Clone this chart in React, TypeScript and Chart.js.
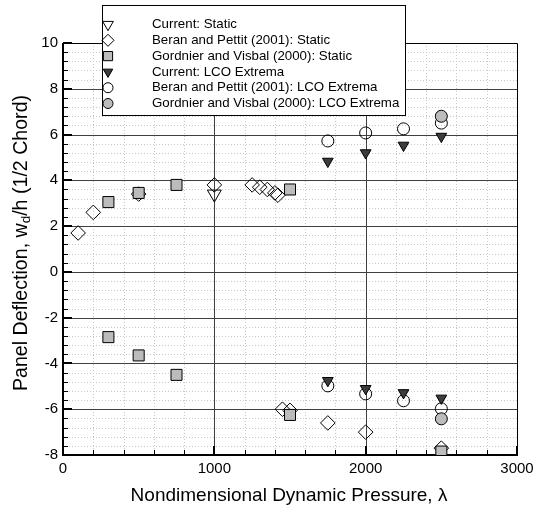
import React, { useEffect, useRef } from "react";
import { Chart, registerables } from "chart.js";
import { drawPoint } from "chart.js/helpers";

Chart.register(...registerables);

// ---- data ----
const currentStaticX = [1000];
const currentStaticY = [3.4];

const beranStaticX = [100, 200, 500, 1000, 1250, 1300, 1350, 1400, 1420, 1450, 1500, 1750, 2000, 2500];
const beranStaticY = [1.7, 2.6, 3.4, 3.8, 3.8, 3.7, 3.6, 3.45, 3.35, -6.0, -6.05, -6.6, -7.0, -7.7];

const gordStaticX = [300, 500, 750, 1500, 300, 500, 750, 1500, 2500];
const gordStaticY = [3.05, 3.45, 3.8, 3.6, -2.85, -3.65, -4.5, -6.25, -7.85];

const currentLcoX = [1750, 2000, 2250, 2500, 1750, 2000, 2250, 2500];
const currentLcoY = [4.83, 5.2, 5.53, 5.92, -4.75, -5.1, -5.28, -5.52];

const beranLcoX = [1750, 2000, 2250, 2500, 1750, 2000, 2250, 2500];
const beranLcoY = [5.72, 6.07, 6.25, 6.5, -4.98, -5.33, -5.63, -5.98];

const gordLcoX = [2500, 2500];
const gordLcoY = [6.8, -6.42];

const xTicks = [0, 1000, 2000, 3000];
const yTicks = [-8, -6, -4, -2, 0, 2, 4, 6, 8, 10];

const legendLabels = [
  "Current: Static",
  "Beran and Pettit (2001): Static",
  "Gordnier and Visbal (2000): Static",
  "Current: LCO Extrema",
  "Beran and Pettit (2001): LCO Extrema",
  "Gordnier and Visbal (2000): LCO Extrema",
];

const FONT = "'Liberation Sans', Arial, sans-serif";
const GREY = "#bcbcbc";
const DARK = "#3c3c3c";
const NONE = "rgba(0,0,0,0)";

const pts = (xs: number[], ys: number[]) => xs.map((x, i) => ({ x, y: ys[i] }));

const styles = [
  { pointStyle: "triangle", rotation: 180, radius: 8, fill: NONE, order: 4, lr: 6.2 },
  { pointStyle: "rectRot", rotation: 0, radius: 7.3, fill: NONE, order: 5, lr: 6 },
  { pointStyle: "rect", rotation: 0, radius: 7.8, fill: GREY, order: 2, lr: 6.5 },
  { pointStyle: "triangle", rotation: 180, radius: 6.2, fill: DARK, order: 1, lr: 5.5 },
  { pointStyle: "circle", rotation: 0, radius: 6, fill: NONE, order: 3, lr: 5 },
  { pointStyle: "circle", rotation: 0, radius: 6, fill: GREY, order: 0, lr: 5 },
];

const seriesData = [
  pts(currentStaticX, currentStaticY),
  pts(beranStaticX, beranStaticY),
  pts(gordStaticX, gordStaticY),
  pts(currentLcoX, currentLcoY),
  pts(beranLcoX, beranLcoY),
  pts(gordLcoX, gordLcoY),
];

const gridPlugin = {
  id: "customGrid",
  beforeDatasetsDraw(chart: any) {
    const { ctx, chartArea: a, scales } = chart;
    const xs = scales.x;
    const ys = scales.y;
    ctx.save();
    // minor dotted grid
    ctx.strokeStyle = "#c8c8c8";
    ctx.lineWidth = 1;
    ctx.setLineDash([1, 2]);
    for (let v = 200; v < 3000; v += 200) {
      if (v % 1000 === 0) continue;
      const px = Math.round(xs.getPixelForValue(v)) + 0.5;
      ctx.beginPath();
      ctx.moveTo(px, a.top);
      ctx.lineTo(px, a.bottom);
      ctx.stroke();
    }
    for (let k = 1; k < 45; k++) {
      const v = -8 + k * 0.4;
      if (k % 5 === 0) continue;
      const py = Math.round(ys.getPixelForValue(v)) + 0.5;
      ctx.beginPath();
      ctx.moveTo(a.left, py);
      ctx.lineTo(a.right, py);
      ctx.stroke();
    }
    ctx.setLineDash([]);
    // major solid grid
    ctx.strokeStyle = "#404040";
    for (const v of xTicks) {
      if (v === 0 || v === 3000) continue;
      const px = Math.round(xs.getPixelForValue(v)) + 0.5;
      ctx.beginPath();
      ctx.moveTo(px, a.top);
      ctx.lineTo(px, a.bottom);
      ctx.stroke();
    }
    for (const v of yTicks) {
      if (v === -8 || v === 10) continue;
      const py = Math.round(ys.getPixelForValue(v)) + 0.5;
      ctx.beginPath();
      ctx.moveTo(a.left, py);
      ctx.lineTo(a.right, py);
      ctx.stroke();
    }
    // border
    ctx.strokeStyle = "#000";
    ctx.lineWidth = 1;
    ctx.beginPath();
    ctx.moveTo(a.left, Math.round(a.top) + 0.5);
    ctx.lineTo(Math.round(a.right) + 0.5, Math.round(a.top) + 0.5);
    ctx.lineTo(Math.round(a.right) + 0.5, a.bottom);
    ctx.stroke();
    ctx.lineWidth = 2;
    ctx.beginPath();
    ctx.moveTo(Math.round(a.left), a.top);
    ctx.lineTo(Math.round(a.left), Math.round(a.bottom));
    ctx.lineTo(a.right + 1, Math.round(a.bottom));
    ctx.stroke();
    // inward ticks
    for (let v = 0; v <= 3000; v += 200) {
      const px = Math.round(xs.getPixelForValue(v));
      const major = v % 1000 === 0;
      ctx.lineWidth = major ? 2 : 1;
      const off = major ? 0 : 0.5;
      ctx.beginPath();
      ctx.moveTo(px + off, a.bottom);
      ctx.lineTo(px + off, a.bottom - (major ? 9 : 5));
      ctx.stroke();
    }
    for (let k = 0; k <= 45; k++) {
      const v = -8 + k * 0.4;
      const py = Math.round(ys.getPixelForValue(v));
      const major = k % 5 === 0;
      ctx.lineWidth = major ? 2 : 1;
      const off = major ? 0 : 0.5;
      ctx.beginPath();
      ctx.moveTo(a.left, py + off);
      ctx.lineTo(a.left + (major ? 9 : 5), py + off);
      ctx.stroke();
    }
    ctx.restore();
  },
};

const overlayPlugin = {
  id: "overlay",
  afterDraw(chart: any) {
    const { ctx } = chart;
    ctx.save();
    // legend
    ctx.fillStyle = "#fff";
    ctx.fillRect(102, 5, 304, 111);
    ctx.strokeStyle = "#000";
    ctx.lineWidth = 1;
    ctx.strokeRect(102.5, 5.5, 303, 110);
    ctx.font = `13.3px ${FONT}`;
    ctx.textBaseline = "middle";
    ctx.textAlign = "left";
    legendLabels.forEach((label, i) => {
      const y = 24.5 + i * 15.8;
      const s = styles[i];
      ctx.fillStyle = s.fill;
      ctx.strokeStyle = "#000";
      ctx.lineWidth = 1;
      drawPoint(ctx, { pointStyle: s.pointStyle, rotation: s.rotation, radius: s.lr, borderWidth: 1 } as any, 108, y);
      ctx.fillStyle = "#000";
      ctx.fillText(label, 152, y);
    });
    // x title
    ctx.fillStyle = "#000";
    ctx.font = `19px ${FONT}`;
    ctx.textAlign = "center";
    ctx.textBaseline = "middle";
    ctx.fillText("Nondimensional Dynamic Pressure, \u03bb", 289, 496);
    // y title with subscript
    const parts = [
      { t: "Panel Deflection, w", f: `19.6px ${FONT}`, dy: 0 },
      { t: "d", f: `13.5px ${FONT}`, dy: 4 },
      { t: "/h (1/2 Chord)", f: `19.6px ${FONT}`, dy: 0 },
    ];
    let total = 0;
    const widths = parts.map((p) => {
      ctx.font = p.f;
      const w = ctx.measureText(p.t).width;
      total += w;
      return w;
    });
    ctx.translate(22, 243);
    ctx.rotate(-Math.PI / 2);
    ctx.textAlign = "left";
    let x = -total / 2;
    parts.forEach((p, i) => {
      ctx.font = p.f;
      ctx.fillText(p.t, x, p.dy);
      x += widths[i];
    });
    ctx.restore();
  },
};

export default function App() {
  const ref = useRef<HTMLCanvasElement | null>(null);
  useEffect(() => {
    if (!ref.current) return;
    const chart = new Chart(ref.current, {
      type: "scatter",
      data: {
        datasets: seriesData.map((d, i) => ({
          label: legendLabels[i],
          data: d,
          pointStyle: styles[i].pointStyle as any,
          rotation: styles[i].rotation,
          pointRadius: styles[i].radius,
          pointHoverRadius: styles[i].radius,
          backgroundColor: styles[i].fill,
          borderColor: "#000",
          borderWidth: 1,
          order: styles[i].order,
        })),
      },
      options: {
        responsive: false,
        animation: false,
        devicePixelRatio: 1,
        layout: { padding: { left: 0, right: 16, top: 43, bottom: 0 } },
        plugins: { legend: { display: false }, tooltip: { enabled: false } },
        scales: {
          x: {
            type: "linear",
            min: 0,
            max: 3000,
            afterBuildTicks: (s: any) => {
              s.ticks = xTicks.map((v) => ({ value: v }));
            },
            afterFit: (s: any) => {
              s.height = 55;
              s.paddingLeft = 0;
              s.paddingRight = 0;
            },
            ticks: {
              font: { size: 15, family: FONT },
              color: "#000",
              padding: 5,
              maxRotation: 0,
              autoSkip: false,
              callback: (v: any) => String(v),
            },
            grid: { display: false, drawTicks: false },
            border: { display: false },
          },
          y: {
            type: "linear",
            min: -8,
            max: 10,
            afterBuildTicks: (s: any) => {
              s.ticks = yTicks.map((v) => ({ value: v }));
            },
            afterFit: (s: any) => {
              s.width = 63;
              s.paddingTop = 0;
              s.paddingBottom = 0;
            },
            ticks: { font: { size: 15, family: FONT }, color: "#000", padding: 5, callback: (v: any) => String(v) },
            grid: { display: false, drawTicks: false },
            border: { display: false },
          },
        },
      },
      plugins: [gridPlugin, overlayPlugin],
    });
    return () => chart.destroy();
  }, []);
  return (
    <div style={{ position: "fixed", left: 0, top: 0, width: 533, height: 510, background: "#fff" }}>
      <canvas ref={ref} width={533} height={510} style={{ width: 533, height: 510, display: "block" }} />
    </div>
  );
}
